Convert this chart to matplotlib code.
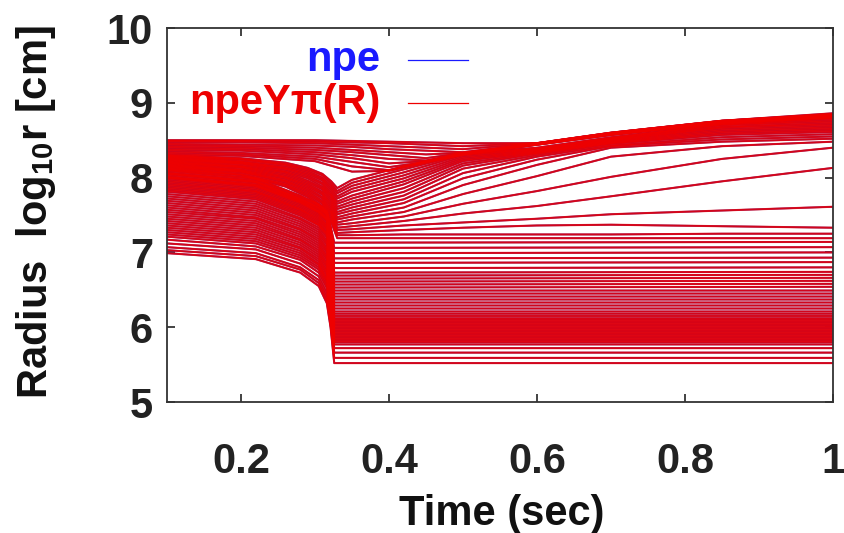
import matplotlib
matplotlib.use("Agg")
import matplotlib.pyplot as plt

plt.rcParams['font.family'] = ['Liberation Sans', 'DejaVu Sans']
plt.rcParams['font.weight'] = 'bold'
plt.rcParams['mathtext.fontset'] = 'custom'
plt.rcParams['mathtext.rm'] = 'Liberation Sans:bold'
plt.rcParams['mathtext.bf'] = 'Liberation Sans:bold'
plt.rcParams['mathtext.default'] = 'bf'

# ---------------- data (log10 radius of mass shells) -------------
series_labels = ["npe", "npeY\u03c0(R)"]
series_colors = ["#3020b0", "#f00000"]

# inner (core) shells: collapse and settle
t_core = [0.10, 0.22, 0.28, 0.305, 0.316, 0.321, 0.326, 1.00]
radius_core = [
    [6.99, 6.91, 6.73, 6.55, 6.32, 6.00, 5.52, 5.52],
    [7.03, 6.95, 6.77, 6.59, 6.36, 6.05, 5.59, 5.59],
    [7.07, 6.99, 6.80, 6.63, 6.41, 6.10, 5.66, 5.66],
    [7.12, 7.04, 6.85, 6.68, 6.46, 6.16, 5.72, 5.72],
    [7.17, 7.08, 6.90, 6.73, 6.52, 6.22, 5.77, 5.77],
    [7.21, 7.12, 6.93, 6.77, 6.56, 6.27, 5.80, 5.80],
    [7.24, 7.15, 6.96, 6.80, 6.60, 6.30, 5.82, 5.82],
    [7.27, 7.18, 6.99, 6.83, 6.63, 6.34, 5.84, 5.84],
    [7.30, 7.21, 7.02, 6.85, 6.66, 6.38, 5.86, 5.86],
    [7.33, 7.24, 7.05, 6.88, 6.70, 6.41, 5.88, 5.88],
    [7.36, 7.27, 7.07, 6.91, 6.73, 6.45, 5.90, 5.90],
    [7.39, 7.30, 7.10, 6.94, 6.76, 6.49, 5.92, 5.92],
    [7.42, 7.33, 7.13, 6.97, 6.80, 6.52, 5.94, 5.94],
    [7.45, 7.36, 7.16, 7.00, 6.83, 6.56, 5.96, 5.96],
    [7.48, 7.39, 7.18, 7.03, 6.86, 6.60, 5.98, 5.98],
    [7.51, 7.42, 7.21, 7.06, 6.90, 6.63, 6.00, 6.00],
    [7.54, 7.45, 7.24, 7.09, 6.93, 6.67, 6.02, 6.02],
    [7.57, 7.47, 7.27, 7.12, 6.96, 6.71, 6.04, 6.04],
    [7.60, 7.50, 7.30, 7.15, 7.00, 6.74, 6.06, 6.06],
    [7.63, 7.53, 7.32, 7.18, 7.03, 6.78, 6.08, 6.08],
    [7.66, 7.56, 7.35, 7.21, 7.06, 6.82, 6.10, 6.10],
    [7.69, 7.59, 7.38, 7.24, 7.10, 6.85, 6.12, 6.12],
    [7.72, 7.62, 7.41, 7.27, 7.13, 6.89, 6.15, 6.15],
    [7.75, 7.65, 7.44, 7.30, 7.16, 6.92, 6.18, 6.18],
    [7.78, 7.68, 7.46, 7.33, 7.20, 6.96, 6.21, 6.21],
    [7.81, 7.71, 7.49, 7.36, 7.23, 7.00, 6.25, 6.25],
    [7.83, 7.73, 7.51, 7.37, 7.25, 7.02, 6.29, 6.29],
    [7.85, 7.75, 7.53, 7.39, 7.27, 7.05, 6.33, 6.33],
    [7.87, 7.77, 7.55, 7.41, 7.30, 7.07, 6.37, 6.37],
    [7.89, 7.79, 7.57, 7.43, 7.32, 7.10, 6.41, 6.41],
    [7.91, 7.81, 7.58, 7.45, 7.34, 7.12, 6.45, 6.45],
    [7.93, 7.82, 7.60, 7.47, 7.36, 7.14, 6.49, 6.49],
    [7.95, 7.84, 7.62, 7.49, 7.38, 7.17, 6.53, 6.54],
    [7.97, 7.86, 7.64, 7.51, 7.41, 7.19, 6.57, 6.58],
    [7.99, 7.88, 7.66, 7.53, 7.43, 7.22, 6.61, 6.62],
    [8.00, 7.89, 7.67, 7.54, 7.44, 7.23, 6.65, 6.66],
    [8.01, 7.90, 7.68, 7.55, 7.45, 7.24, 6.69, 6.70],
    [8.02, 7.91, 7.69, 7.56, 7.46, 7.25, 6.73, 6.74],
    [8.04, 7.93, 7.70, 7.58, 7.48, 7.28, 6.79, 6.80],
    [8.05, 7.94, 7.71, 7.59, 7.50, 7.29, 6.86, 6.87],
    [8.06, 7.95, 7.72, 7.60, 7.51, 7.30, 6.92, 6.93],
    [8.07, 7.96, 7.73, 7.61, 7.52, 7.31, 6.99, 7.00],
    [8.09, 7.98, 7.75, 7.63, 7.54, 7.34, 7.06, 7.07],
    [8.10, 7.99, 7.76, 7.64, 7.55, 7.35, 7.13, 7.14],
]

# shocked shells: fall to the bounce, then move outward behind the shock
t_shocked = [0.10, 0.20, 0.26, 0.29, 0.31, 0.322, 0.33, 0.35, 0.42, 0.50, 0.60, 0.70, 0.85, 1.00]
radius_shocked = [
    [8.11, 8.03, 7.88, 7.74, 7.60, 7.40, 7.19, 7.19, 7.19, 7.19, 7.19, 7.19, 7.19, 7.19],
    [8.12, 8.04, 7.90, 7.76, 7.62, 7.43, 7.23, 7.23, 7.24, 7.24, 7.24, 7.24, 7.25, 7.25],
    [8.13, 8.05, 7.91, 7.78, 7.65, 7.46, 7.26, 7.27, 7.30, 7.33, 7.36, 7.37, 7.35, 7.33],
    [8.14, 8.07, 7.93, 7.80, 7.67, 7.49, 7.30, 7.31, 7.36, 7.40, 7.45, 7.51, 7.56, 7.61],
    [8.15, 8.08, 7.95, 7.82, 7.69, 7.52, 7.33, 7.35, 7.42, 7.52, 7.62, 7.75, 7.95, 8.13],
    [8.16, 8.09, 7.96, 7.84, 7.72, 7.54, 7.37, 7.39, 7.48, 7.65, 7.82, 8.01, 8.25, 8.40],
    [8.17, 8.10, 7.98, 7.86, 7.74, 7.57, 7.40, 7.44, 7.54, 7.78, 8.02, 8.28, 8.42, 8.48],
    [8.18, 8.11, 8.00, 7.88, 7.77, 7.60, 7.44, 7.48, 7.60, 7.90, 8.17, 8.40, 8.48, 8.52],
    [8.19, 8.13, 8.01, 7.90, 7.79, 7.63, 7.47, 7.52, 7.66, 7.99, 8.24, 8.42, 8.51, 8.55],
    [8.20, 8.14, 8.03, 7.92, 7.81, 7.66, 7.51, 7.56, 7.71, 8.06, 8.28, 8.43, 8.54, 8.58],
    [8.21, 8.15, 8.05, 7.94, 7.84, 7.69, 7.54, 7.60, 7.76, 8.12, 8.30, 8.45, 8.57, 8.61],
    [8.22, 8.16, 8.07, 7.96, 7.86, 7.72, 7.58, 7.64, 7.81, 8.16, 8.32, 8.46, 8.59, 8.63],
    [8.23, 8.18, 8.08, 7.99, 7.88, 7.75, 7.61, 7.68, 7.86, 8.19, 8.33, 8.47, 8.61, 8.65],
    [8.24, 8.19, 8.10, 8.01, 7.91, 7.77, 7.65, 7.72, 7.91, 8.22, 8.34, 8.48, 8.63, 8.67],
    [8.25, 8.20, 8.12, 8.03, 7.93, 7.80, 7.68, 7.76, 7.95, 8.24, 8.35, 8.49, 8.65, 8.69],
    [8.26, 8.21, 8.13, 8.05, 7.96, 7.83, 7.72, 7.81, 7.99, 8.26, 8.36, 8.50, 8.67, 8.71],
    [8.27, 8.22, 8.15, 8.07, 7.98, 7.86, 7.75, 7.85, 8.03, 8.28, 8.37, 8.51, 8.68, 8.73],
    [8.28, 8.24, 8.17, 8.09, 8.00, 7.89, 7.79, 7.89, 8.07, 8.30, 8.38, 8.52, 8.70, 8.75],
    [8.29, 8.25, 8.18, 8.11, 8.03, 7.92, 7.82, 7.93, 8.11, 8.31, 8.39, 8.53, 8.71, 8.77],
    [8.30, 8.26, 8.20, 8.13, 8.05, 7.95, 7.86, 7.97, 8.15, 8.33, 8.40, 8.54, 8.72, 8.79],
]

# outer shells: fall slowly until swept up by the shock
t_outer = [0.10, 0.20, 0.30, 0.35, 0.40, 0.45, 0.50, 0.60, 0.70, 0.85, 1.00]
radius_outer = [
    [8.31, 8.29, 8.22, 8.08, 8.09, 8.20, 8.31, 8.44, 8.57, 8.73, 8.80],
    [8.33, 8.31, 8.25, 8.15, 8.10, 8.21, 8.31, 8.44, 8.57, 8.73, 8.81],
    [8.35, 8.33, 8.28, 8.21, 8.14, 8.21, 8.32, 8.44, 8.58, 8.74, 8.81],
    [8.37, 8.36, 8.31, 8.26, 8.19, 8.22, 8.32, 8.45, 8.58, 8.74, 8.82],
    [8.39, 8.38, 8.34, 8.30, 8.25, 8.23, 8.32, 8.45, 8.58, 8.74, 8.82],
    [8.41, 8.40, 8.37, 8.34, 8.30, 8.26, 8.33, 8.45, 8.59, 8.75, 8.83],
    [8.43, 8.42, 8.40, 8.37, 8.34, 8.31, 8.33, 8.45, 8.59, 8.75, 8.83],
    [8.45, 8.44, 8.43, 8.41, 8.38, 8.36, 8.34, 8.46, 8.59, 8.75, 8.84],
    [8.47, 8.47, 8.46, 8.44, 8.42, 8.40, 8.38, 8.46, 8.60, 8.76, 8.84],
    [8.49, 8.49, 8.48, 8.47, 8.46, 8.44, 8.42, 8.46, 8.60, 8.76, 8.85],
    [8.50, 8.50, 8.50, 8.49, 8.48, 8.47, 8.46, 8.46, 8.60, 8.76, 8.86],
]

# both models give trajectories that are indistinguishable at this scale
series_data = {
    "npe": [(t_core, radius_core), (t_shocked, radius_shocked), (t_outer, radius_outer)],
    "npeY\u03c0(R)": [(t_core, radius_core), (t_shocked, radius_shocked), (t_outer, radius_outer)],
}

x_ticks = [0.2, 0.4, 0.6, 0.8, 1.0]
x_tick_labels = ["0.2", "0.4", "0.6", "0.8", "1"]
y_ticks = [5, 6, 7, 8, 9, 10]

# ---------------- figure ------------------------------------------------------------
W, H = 844, 533
fig = plt.figure(figsize=(W / 100, H / 100), dpi=100)
ax = fig.add_axes([167 / W, 1 - 402 / H, (833 - 167) / W, (402 - 28) / H])

styles = {"npe": dict(lw=1.25, alpha=1.0), "npeY\u03c0(R)": dict(lw=1.5, alpha=0.84)}
for name, color in zip(series_labels, series_colors):
    for t, rows in series_data[name]:
        for row in rows:
            ax.plot(t, row, color=color, solid_capstyle='butt', **styles[name])

ax.set_xlim(0.1, 1.0)
ax.set_ylim(5, 10)
ax.set_xticks(x_ticks)
ax.set_xticklabels(x_tick_labels)
ax.set_yticks(y_ticks)
ax.tick_params(direction='in', length=6, width=1.2, top=True, right=True,
               labelsize=30, colors='#222222')
ax.tick_params(axis='x', pad=29)
ax.tick_params(axis='y', pad=10)
for s in ax.spines.values():
    s.set_linewidth(1.3)
    s.set_color('#333333')

fig.text(502 / W, 1 - 514 / H, "Time (sec)", ha='center', va='center',
         fontsize=30, fontweight='bold', color='#111111')
fig.text(36 / W, 1 - 212 / H, r"Radius  log$_{10}$r [cm]", ha='center', va='center',
         rotation=90, fontsize=30, fontweight='bold', color='#111111')

# legend (gnuplot style: text then sample line)
leg_y = [0.914, 0.800]
for name, color, yy in zip(series_labels, ["#1a1aff", "#ee0000"], leg_y):
    ax.text(0.320, yy, name, transform=ax.transAxes, ha='right', va='center',
            fontsize=30, fontweight='bold', color=color)
    ax.plot([0.362, 0.452], [yy, yy], transform=ax.transAxes, color=color, lw=0.9)

fig.savefig("out.png", dpi=100)
